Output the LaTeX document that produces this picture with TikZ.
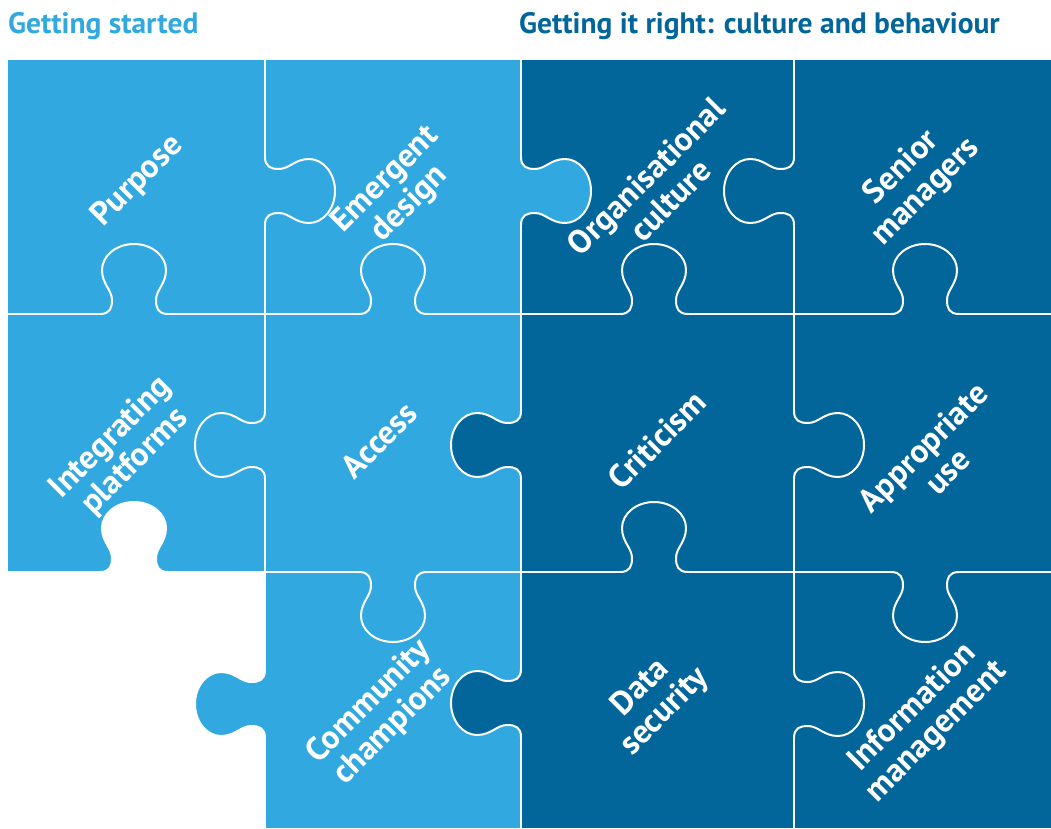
\documentclass[tikz,border=0pt]{standalone}
\usepackage{fontspec}
\setmainfont{PT Sans}
\usetikzlibrary{positioning}
\definecolor{lightblue}{RGB}{49,169,224}
\definecolor{darkblue}{RGB}{3,102,155}

\begin{document}
\begin{tikzpicture}
			[
				x = 1pt, y = -1pt,
				seam/.style = {draw = white, line width = 2pt},
				heading/.style = {font = \bfseries\fontsize{29.5}{34}\selectfont, inner sep = 0pt, anchor = base west},
				piecetext/.style = {text = white, font = \bfseries\fontsize{33}{34}\selectfont, align = center, rotate = 45, inner sep = 0pt},
				knob curve/.style = {insert path = {.. controls (-24,0) and (-22,6) .. (-22,14)
					.. controls (-22,24) and (-32,30) .. (-32,44)
					.. controls (-32,58) and (-18,70) .. (0,70)
					.. controls (18,70) and (32,58) .. (32,44)
					.. controls (32,30) and (22,24) .. (22,14)
					.. controls (22,6) and (24,0) .. (34,0)}},
				pics/knob/.style = {code = {
					\fill[#1] (-34,-2) -- (-34,0) [knob curve] -- (34,-2) -- cycle;
					\draw[seam] (-34,0) [knob curve];
				}},
			]
			\useasboundingbox (0,0) rectangle (1051,828);
			% pieces
			\fill[lightblue] (8,59.5) rectangle (521,572);
			\fill[lightblue] (265,572) rectangle (521,828);
			\fill[darkblue] (521,59.5) rectangle (1051,828);
			\draw[seam] (265,59.5) -- (265,828);
			\draw[seam] (521,59.5) -- (521,828);
			\draw[seam] (794,59.5) -- (794,828);
			\draw[seam] (8,314) -- (1051,314);
			\draw[seam] (8,572) -- (1051,572);
			% knobs between the rows
			\path (134,314) pic[rotate = 180] {knob = lightblue};
			\path (393,314) pic[rotate = 180] {knob = lightblue};
			\path (654,314) pic[rotate = 180] {knob = darkblue};
			\path (925,314) pic[rotate = 180] {knob = darkblue};
			\path (134,572) pic[rotate = 180] {knob = white};
			\path (393,572) pic {knob = lightblue};
			\path (654,572) pic[rotate = 180] {knob = darkblue};
			\path (925,572) pic {knob = darkblue};
			% knobs between the columns
			\path (265,191) pic[rotate = 90] {knob = lightblue};
			\path (521,191) pic[rotate = 90] {knob = lightblue};
			\path (794,191) pic[rotate = -90] {knob = darkblue};
			\path (265,445) pic[rotate = -90] {knob = lightblue};
			\path (521,445) pic[rotate = -90] {knob = darkblue};
			\path (794,445) pic[rotate = 90] {knob = darkblue};
			\path (265,704) pic[rotate = -90] {knob = lightblue};
			\path (521,703) pic[rotate = -90] {knob = darkblue};
			\path (794,704) pic[rotate = 90] {knob = darkblue};
			% headings
			\node (startedhead) [heading, text = lightblue] at (8,33) {Getting started};
			\node (culturehead) [heading, text = darkblue] at (519,33) {Getting it right: culture and behaviour};
			% texts
			\node (purpose) [piecetext] at (138,181) {Purpose};
			\node (emergent) [piecetext] at (398,192) {Emergent\\design};
			\node (organisational) [piecetext] at (658,188) {Organisational\\culture};
			\node (senior) [piecetext] at (914,180) {Senior\\managers};
			\node (integrating) [piecetext] at (123,450) {Integrating\\platforms};
			\node (access) [piecetext] at (379,440) {Access};
			\node (criticism) [piecetext] at (657,440) {Criticism};
			\node (appropriate) [piecetext] at (935,459) {Appropriate\\use};
			\node (community) [piecetext] at (381,714) {Community\\champions};
			\node (datasecurity) [piecetext] at (653,700) {Data\\security};
			\node (information) [piecetext] at (925,720) {Information\\management};
		\end{tikzpicture}
\end{document}
